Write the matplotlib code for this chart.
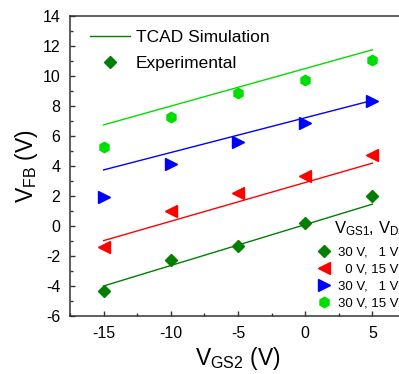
import matplotlib
matplotlib.use("Agg")
import matplotlib.pyplot as plt
from matplotlib.lines import Line2D
from matplotlib.ticker import MultipleLocator

plt.rcParams['font.family'] = ['Liberation Sans', 'DejaVu Sans']
plt.rcParams['mathtext.fontset'] = 'custom'
plt.rcParams['mathtext.rm'] = 'Liberation Sans'
plt.rcParams['mathtext.it'] = 'Liberation Sans'
plt.rcParams['mathtext.default'] = 'regular'
plt.rcParams['axes.unicode_minus'] = False

# data
vgs2 = [-15, -10, -5, 0, 5]
sim_x = [-15, 5]

exp_a = [-4.33, -2.27, -1.33, 0.18, 2.02]    # 30 V, 1 V (diamond)
exp_b = [-1.42, 1.0, 2.18, 3.33, 4.73]       # 0 V, 15 V
exp_c = [1.91, 4.11, 5.58, 6.84, 8.33]       # 30 V, 1 V (triangle)
exp_d = [5.27, 7.24, 8.82, 9.69, 11.02]      # 30 V, 15 V

sim_a = [-4.0, 1.45]
sim_b = [-0.98, 4.18]
sim_c = [3.73, 8.36]
sim_d = [6.73, 11.73]

labels = ["30 V,   1 V", "  0 V, 15 V", "30 V,   1 V", "30 V, 15 V"]

c_dark = '#007f00'
c_red = '#ff0000'
c_blue = '#0000ff'
c_light = '#00dd00'

fig = plt.figure(figsize=(3.99, 3.74), dpi=100)
ax = fig.add_axes([70/399, 58/374, 336/399, 300.3/374])

ax.plot(sim_x, sim_a, color=c_dark, lw=1.0)
ax.plot(sim_x, sim_b, color=c_red, lw=1.0)
ax.plot(sim_x, sim_c, color=c_blue, lw=1.0)
ax.plot(sim_x, sim_d, color=c_light, lw=1.0)

ax.plot(vgs2, exp_a, 'D', color=c_dark, ms=6, ls='none')
ax.plot(vgs2, exp_b, '<', color=c_red, ms=8, ls='none')
ax.plot(vgs2, exp_c, '>', color=c_blue, ms=8, ls='none')
ax.plot(vgs2, exp_d, 'h', color=c_light, ms=7.5, ls='none')

ax.set_xlim(-17.5, 7.5)
ax.set_ylim(-6, 14)
ax.xaxis.set_major_locator(MultipleLocator(5))
ax.xaxis.set_minor_locator(MultipleLocator(2.5))
ax.yaxis.set_major_locator(MultipleLocator(2))
ax.yaxis.set_minor_locator(MultipleLocator(1))
ax.tick_params(which='both', direction='in', top=False, right=False,
               labelsize=11.5, width=1.0, color='#333333')
ax.tick_params(which='major', length=3.5, pad=7)
ax.tick_params(which='minor', length=2)
for s in ax.spines.values():
    s.set_linewidth(1.1)
    s.set_color('#333333')

ax.set_xlabel('$V_{GS2}$ (V)', fontsize=16.5, labelpad=3)
ax.set_ylabel('$V_{FB}$ (V)', fontsize=16.5, labelpad=2)

h1 = [Line2D([], [], color=c_dark, lw=1.0),
      Line2D([], [], color=c_dark, marker='D', ms=6, ls='none')]
leg1 = ax.legend(h1, ['TCAD Simulation', 'Experimental'], loc='upper left',
                 bbox_to_anchor=(90/399, 1 - 30/374), bbox_transform=fig.transFigure,
                 frameon=False, fontsize=12.5, borderpad=0, borderaxespad=0,
                 handlelength=2.3, handletextpad=0.35, labelspacing=0.6)
ax.add_artist(leg1)

h2 = [Line2D([], [], color=c_dark, marker='D', ms=6, ls='none'),
      Line2D([], [], color=c_red, marker='<', ms=8, ls='none'),
      Line2D([], [], color=c_blue, marker='>', ms=8, ls='none'),
      Line2D([], [], color=c_light, marker='h', ms=7.5, ls='none')]
ax.legend(h2, labels, loc='upper left',
          bbox_to_anchor=(317/399, 1 - 246/374), bbox_transform=fig.transFigure,
          frameon=False, fontsize=9.5, borderpad=0, borderaxespad=0,
          handlelength=1.0, handletextpad=0.6, labelspacing=0.38)

fig.text(334/399, 1 - 229/374, '$V_{GS1}$, $V_{DS1}$', fontsize=12, va='center', ha='left')

fig.savefig('out.png', dpi=100)
